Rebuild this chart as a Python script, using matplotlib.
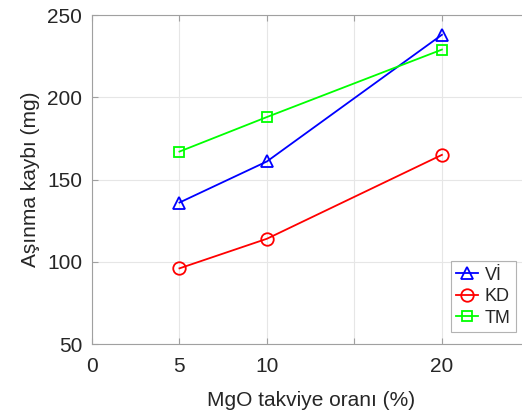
import numpy as np
import matplotlib.pyplot as plt

# --- data ---
mgo = [5, 10, 20]
vi = [136, 161, 238]
kd = [96, 114, 165]
tm = [167, 188, 229]
series_names = ["Vİ", "KD", "TM"]
x_ticks = [0, 5, 10, 15, 20]
x_tick_labels = ["0", "5", "10", "", "20"]
y_ticks = [50, 100, 150, 200, 250]

plt.rcParams['font.family'] = ['Liberation Sans', 'DejaVu Sans']

fig = plt.figure(figsize=(5.22, 4.12), dpi=100)
ax = fig.add_axes([0.1762, 0.165, 0.838, 0.7985])

txt = "#262626"
ax.plot(mgo, vi, color="#0000ff", marker="^", mfc="none", ms=9, lw=1.3, mew=1.3, label=series_names[0])
ax.plot(mgo, kd, color="#ff0000", marker="o", mfc="none", ms=9, lw=1.3, mew=1.3, label=series_names[1])
ax.plot(mgo, tm, color="#00ff00", marker="s", mfc="none", ms=7, lw=1.3, mew=1.3, label=series_names[2])

ax.set_xlim(0, 25)
ax.set_ylim(50, 250)
ax.set_xticks(x_ticks)
ax.set_xticklabels(x_tick_labels)
ax.set_yticks(y_ticks)
ax.grid(True, color="#e6e6e6", lw=0.8)
ax.set_axisbelow(True)

for s in ax.spines.values():
    s.set_color("#a0a0a0")
    s.set_linewidth(0.8)

ax.tick_params(direction="in", length=4, color="#a0a0a0", labelsize=15, labelcolor=txt, top=True, right=True)
ax.tick_params(axis="x", pad=9)
ax.tick_params(axis="y", pad=7)
ax.set_xlabel("MgO takviye oranı (%)", fontsize=15, color=txt, labelpad=11)
ax.set_ylabel("Aşınma kaybı (mg)", fontsize=15, color=txt, labelpad=5)

leg = ax.legend(loc="lower right", bbox_to_anchor=(0.97, 0.036), fontsize=13, frameon=True, fancybox=False,
                edgecolor="#a0a0a0", handlelength=1.2, handletextpad=0.4, borderpad=0.3, labelspacing=0.25,
                borderaxespad=0.0)
leg.get_frame().set_linewidth(0.8)
for t in leg.get_texts():
    t.set_color(txt)

fig.savefig("out.png", dpi=100)
